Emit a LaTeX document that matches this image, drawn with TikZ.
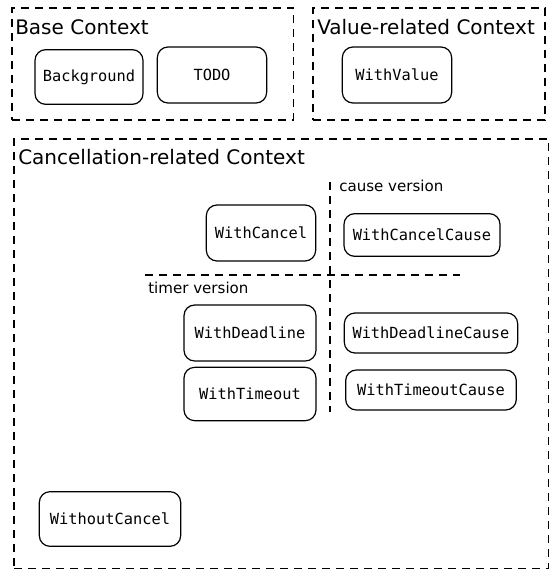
\documentclass[tikz,border=0pt]{standalone}
\usepackage{fontspec}
\setmainfont{DejaVu Sans}
\setmonofont{DejaVu Sans Mono}
\usetikzlibrary{calc}

\tikzset{
    region/.style={draw, dashed, dash pattern=on 6pt off 4.5pt, line width=1.1pt, inner sep=0pt, outer sep=0pt},
    fn_box/.style={draw, rounded corners=8pt, line width=0.9pt, inner sep=0pt, outer sep=0pt,
        font=\fontsize{11.5}{13}\ttfamily},
    region_cap/.style={anchor=west, inner sep=0pt, font=\fontsize{15}{17}\selectfont},
    split_cap/.style={anchor=west, inner sep=0pt, font=\fontsize{11.3}{13}\selectfont},
    divider/.style={dashed, dash pattern=on 6pt off 4.5pt, line width=0.9pt}
}

\begin{document}
\begin{tikzpicture}[x=0.75pt, y=-0.75pt]
    \useasboundingbox (0,0) rectangle (557,578);

    % base context
    \node[region, anchor=north west, minimum width=211pt, minimum height=84pt] (base) at (12,8) {};
    \node[region_cap] (base_cap) at ($(base.north west) + (3,19)$) {Base Context};
    \node[fn_box, minimum width=81pt, minimum height=41pt] (background) at (89,77) {Background};
    \node[fn_box, minimum width=82pt, minimum height=42pt] (todo) at (212,75) {TODO};

    % value-related context
    \node[region, anchor=north west, minimum width=174pt, minimum height=84pt] (value) at (313,8) {};
    \node[region_cap] (value_cap) at ($(value.north west) + (4,19)$) {Value-related Context};
    \node[fn_box, minimum width=82pt, minimum height=42pt] (with_value) at (397,75) {WithValue};

    % cancellation-related context
    \node[region, anchor=north west, minimum width=401pt, minimum height=322pt] (cancel) at (14,139) {};
    \node[region_cap] (cancel_cap) at ($(cancel.north west) + (4,18)$) {Cancellation-related Context};

    % split lines
    \coordinate (split_top) at (330,182);
    \coordinate (split_bottom) at (330,412);
    \coordinate (split_left) at (145,275);
    \coordinate (split_right) at (460,275);
    \draw[divider] (split_top) -- (split_bottom);
    \draw[divider] (split_left) -- (split_right);
    \node[split_cap] (cause_cap) at ($(split_top) + (9,4)$) {cause version};
    \node[split_cap] (timer_cap) at ($(split_left) + (3,13)$) {timer version};

    \node[fn_box, minimum width=82pt, minimum height=42pt] (with_cancel) at (261,233) {WithCancel};
    \node[fn_box, minimum width=117pt, minimum height=32pt] (with_cancel_cause) at (422,235) {WithCancelCause};
    \node[fn_box, minimum width=99pt, minimum height=42pt] (with_deadline) at (250,333) {WithDeadline};
    \node[fn_box, minimum width=130pt, minimum height=30pt] (with_deadline_cause) at (431,333) {WithDeadlineCause};
    \node[fn_box, minimum width=99pt, minimum height=40pt] (with_timeout) at (250,394) {WithTimeout};
    \node[fn_box, minimum width=128pt, minimum height=30pt] (with_timeout_cause) at (431,390) {WithTimeoutCause};
    \node[fn_box, minimum width=106pt, minimum height=41pt] (without_cancel) at (110,519) {WithoutCancel};

\end{tikzpicture}
\end{document}
